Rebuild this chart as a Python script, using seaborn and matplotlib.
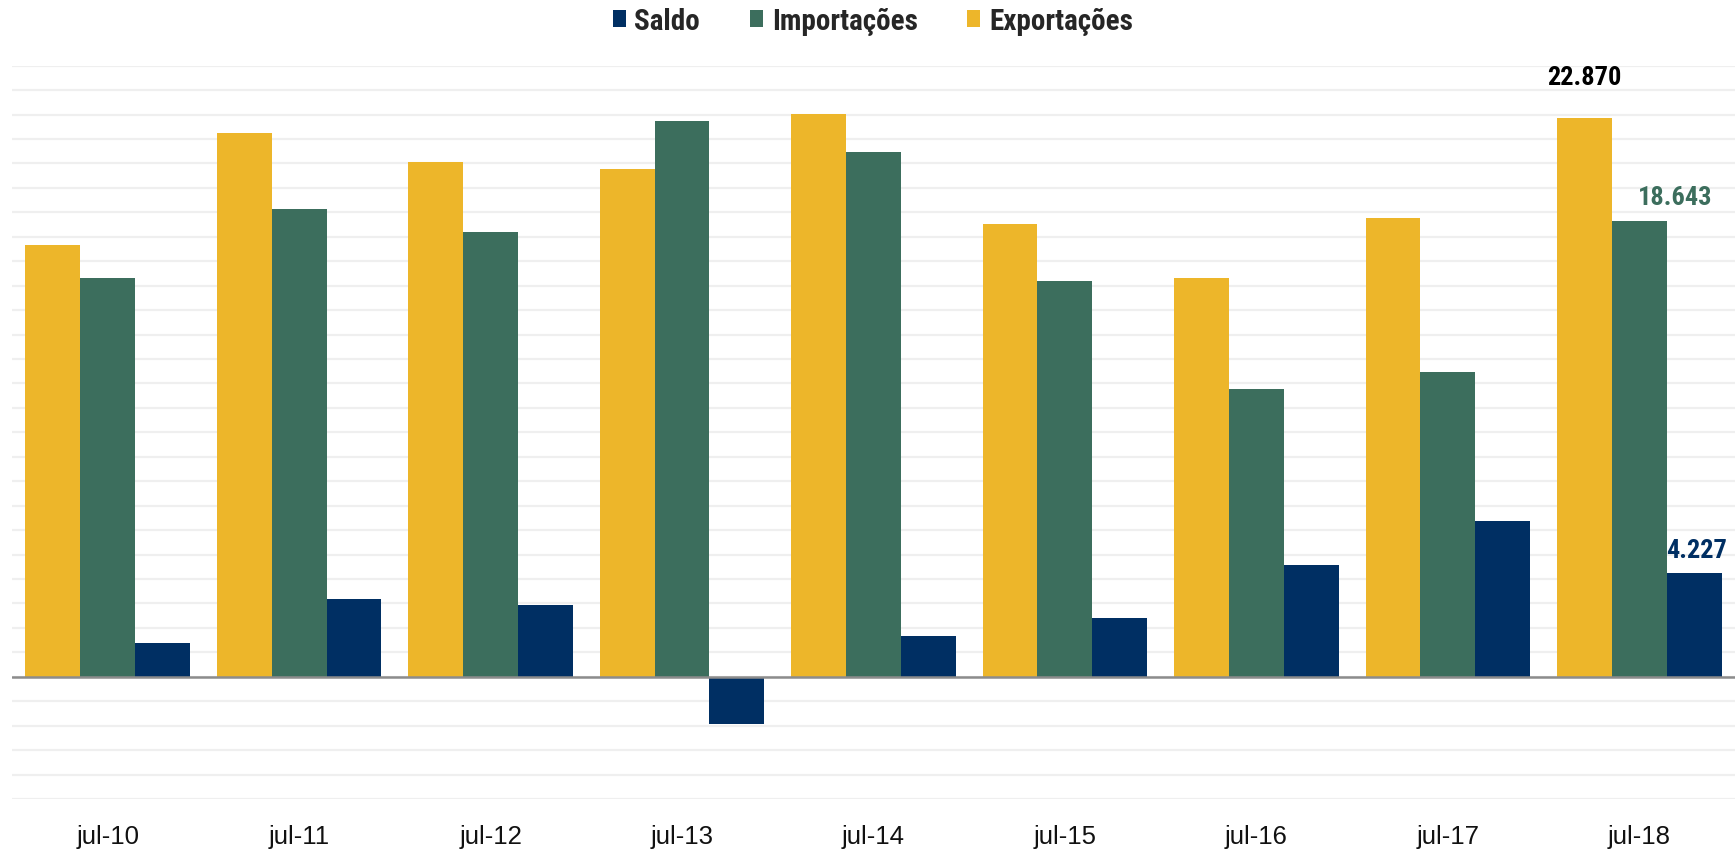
import pandas as pd
import matplotlib.pyplot as plt
import seaborn as sns

meses = ["jul-10", "jul-11", "jul-12", "jul-13", "jul-14", "jul-15", "jul-16", "jul-17", "jul-18"]
exportacoes = [17670, 22240, 21060, 20790, 23010, 18530, 16310, 18760, 22870]
importacoes = [16310, 19120, 18210, 22740, 21470, 16180, 11790, 12470, 18643]
saldo = [1380, 3190, 2920, -1920, 1650, 2420, 4590, 6360, 4227]

series = ["Exportações", "Importações", "Saldo"]
cores = {"Exportações": "#EDB62A", "Importações": "#3C6E5D", "Saldo": "#002F63"}

df = pd.DataFrame({
    "mes": meses * 3,
    "serie": ["Exportações"] * 9 + ["Importações"] * 9 + ["Saldo"] * 9,
    "valor": exportacoes + importacoes + saldo,
})

sns.set_style("white")
plt.rcParams["font.family"] = ["Liberation Sans", "DejaVu Sans"]
negrito = ["Liberation Sans Narrow", "Roboto Condensed", "Roboto", "DejaVu Sans"]

fig = plt.figure(figsize=(17.35, 8.53), dpi=100)
ax = fig.add_axes([0.0069, 0.0621, 0.9931, 0.8597])

sns.barplot(data=df, x="mes", y="valor", hue="serie", hue_order=series,
            palette=cores, width=0.86, saturation=1, errorbar=None,
            linewidth=0, ax=ax, zorder=2)

ax.set_ylim(-5000, 25000)
ax.set_xlim(-0.5, 8.5)
ax.set_yticks(range(-5000, 25001, 1000))
ax.yaxis.grid(True, color="#EFEFEF", linewidth=1.6, zorder=0)
ax.set_axisbelow(True)
ax.axhline(0, color="#8C8C8C", linewidth=1.8, zorder=3)
ax.tick_params(axis="y", left=False, labelleft=False)
ax.tick_params(axis="x", length=0, pad=18, labelsize=18.5, labelcolor="#111111")
ax.set_xlabel("")
ax.set_ylabel("")
for s in ax.spines.values():
    s.set_visible(False)

# rótulos do último mês
bw = 0.86 / 3
ax.annotate("22.870", (8 - bw, exportacoes[-1]), xytext=(0, 21), textcoords="offset points",
            ha="center", va="bottom", fontsize=19, fontweight="bold", color="black", family=negrito)
ax.annotate("18.643", (8, importacoes[-1]), xytext=(26, 9), textcoords="offset points",
            ha="center", va="bottom", fontsize=19, fontweight="bold", color="#3C6E5D", family=negrito)
ax.annotate("4.227", (8 + bw, saldo[-1]), xytext=(2, 8), textcoords="offset points",
            ha="center", va="bottom", fontsize=19, fontweight="bold", color="#002F63", family=negrito)

h, l = ax.get_legend_handles_labels()
ax.legend([h[2], h[1], h[0]], [l[2], l[1], l[0]], loc="center",
          bbox_to_anchor=(0.503, 1 - 22 / 853), bbox_transform=fig.transFigure, ncol=3, frameon=False,
          handlelength=0.45, handleheight=0.52, handletextpad=0.3, columnspacing=1.7,
          borderpad=0, prop={"family": negrito, "weight": "bold", "size": 21})

fig.savefig("out.png", dpi=100)
